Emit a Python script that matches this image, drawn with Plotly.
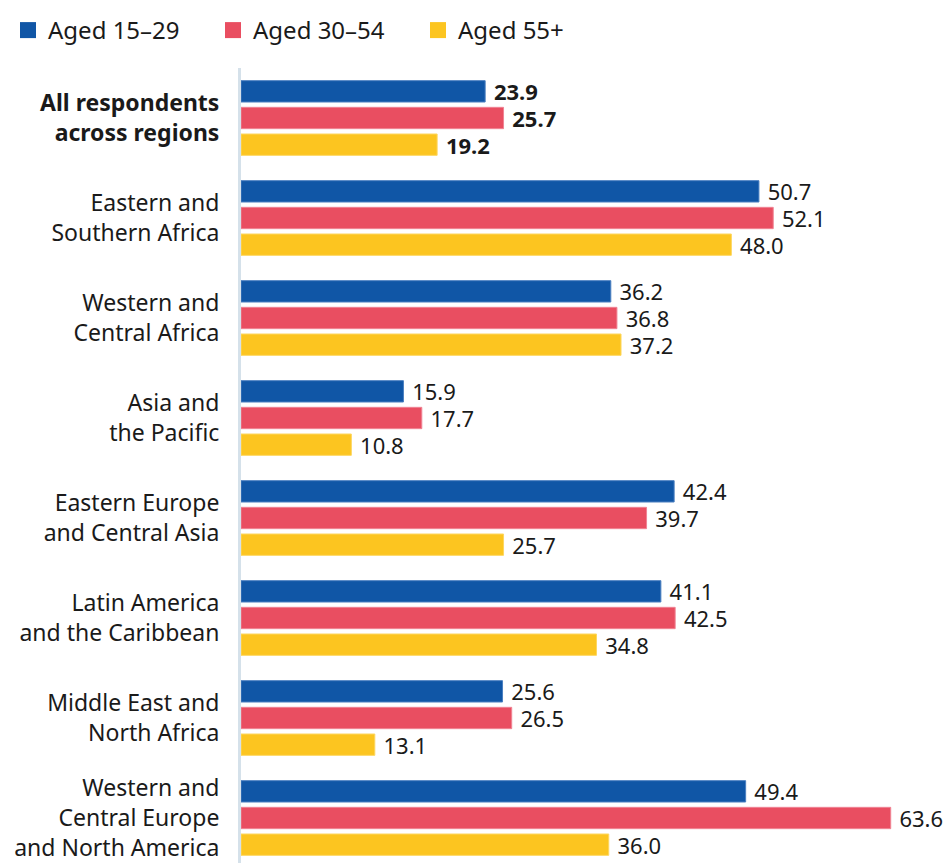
import plotly.graph_objects as go

categories = [
    "<b>All respondents<br>across regions</b>",
    "Eastern and<br>Southern Africa",
    "Western and<br>Central Africa",
    "Asia and<br>the Pacific",
    "Eastern Europe<br>and Central Asia",
    "Latin America<br>and the Caribbean",
    "Middle East and<br>North Africa",
    "Western and<br>Central Europe<br>and North America",
]
aged_15_29 = [23.9, 50.7, 36.2, 15.9, 42.4, 41.1, 25.6, 49.4]
aged_30_54 = [25.7, 52.1, 36.8, 17.7, 39.7, 42.5, 26.5, 63.6]
aged_55_plus = [19.2, 48.0, 37.2, 10.8, 25.7, 34.8, 13.1, 36.0]

series = [
    ("Aged 15\u201329", aged_15_29, "#1056a6", "#4a7fc0"),
    ("Aged 30\u201354", aged_30_54, "#e94e61", "#f08494"),
    ("Aged 55+", aged_55_plus, "#fcc520", "#fdd760"),
]

FONT = "Noto Sans"
TXT = "#1a1a1a"

fig = go.Figure()
for name, vals, col, edge in series:
    labels = []
    for i, v in enumerate(vals):
        s = "\u00a0" + f"{v:.1f}"
        if i == 0:
            s = "\u00a0<b>" + f"{v:.1f}" + "</b>"
        labels.append(s)
    fig.add_trace(go.Bar(
        y=categories, x=vals, orientation="h", name=name,
        marker=dict(color=col, line=dict(color=edge, width=1)),
        text=labels, texttemplate="%{text}", textposition="outside",
        textfont=dict(family=FONT, size=22, color=TXT),
        constraintext="none", cliponaxis=False, showlegend=False,
        hoverinfo="skip",
    ))

for name, vals, col, edge in series:
    fig.add_trace(go.Scatter(
        x=[None], y=[None], mode="markers", name=name,
        marker=dict(symbol="square", size=16, color=col),
        showlegend=True,
    ))

# page body has an 8px margin; compensate so the plot sits where the reference has it
fig.update_layout(
    width=944, height=855,
    margin=dict(l=233, r=0, t=60, b=0, autoexpand=False),
    paper_bgcolor="white", plot_bgcolor="white",
    barmode="group", bargap=0.2, bargroupgap=0.2,
    font=dict(family=FONT, size=22, color=TXT),
    legend=dict(
        orientation="h", xref="container", yref="container",
        x=0.0, y=1.0, xanchor="left", yanchor="top",
        font=dict(family=FONT, size=24, color=TXT),
        entrywidth=160, entrywidthmode="pixels",
        itemsizing="trace", traceorder="normal",
    ),
    xaxis=dict(range=[0, 69.6], showgrid=False, zeroline=False,
               showticklabels=False, showline=False, fixedrange=True),
    yaxis=dict(range=[7.45, -0.5], type="category", showgrid=False,
               showline=True, linecolor="#d5e1ea", linewidth=3,
               ticks="", ticklabelstandoff=14,
               tickfont=dict(family=FONT, size=23, color=TXT)),
)

fig.write_html("out.html")
